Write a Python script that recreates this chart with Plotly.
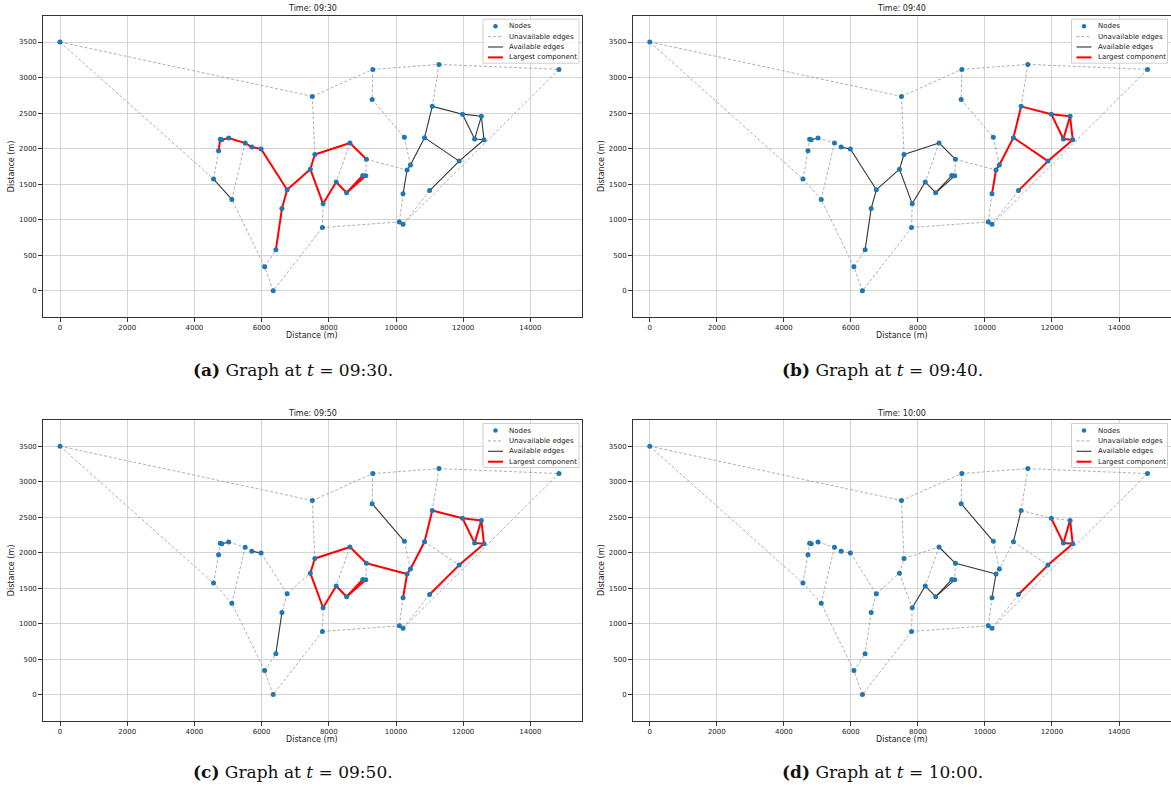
import plotly.graph_objects as go

# ---------------- data ----------------
NODE_X = [0, 7510, 9310, 11280, 14850, 9290, 10250, 11080, 11980, 12540,
          12340, 12620, 10850, 11880, 10430, 10330, 10210, 11000, 10100, 10210,
          7810, 9120, 8630, 7585, 7450, 7830, 8220, 8530, 9010, 9100,
          6760, 6605, 6425, 6090, 6345, 5115, 4570, 4720, 4770, 4815,
          5020, 5510, 5710, 5985]
NODE_Y = [3500, 2735, 3115, 3185, 3115, 2690, 2160, 2595, 2485, 2455,
          2135, 2125, 2155, 1825, 1770, 1700, 1365, 1410, 970, 935,
          890, 1850, 2080, 1918, 1712, 1224, 1530, 1380, 1622, 1618,
          1421, 1157, 577, 338, 0, 1286, 1572, 1970, 2133, 2125,
          2149, 2078, 2022, 1995]

EDGE_U = [0, 0, 1, 1, 2, 3, 2, 5, 3, 4,
          7, 7, 8, 8, 10, 9, 10, 11, 12, 13,
          12, 14, 15, 6, 21, 16, 18, 20, 19, 20,
          20, 34, 33, 33, 35, 35, 36, 37, 38, 39,
          40, 41, 42, 43, 30, 31, 30, 24, 23, 22,
          21, 24, 25, 26, 27, 27, 22, 28]
EDGE_V = [1, 36, 2, 23, 3, 4, 5, 6, 7, 19,
          12, 8, 9, 10, 9, 11, 11, 13, 13, 17,
          14, 15, 16, 14, 15, 18, 19, 18, 17, 34,
          25, 33, 32, 35, 36, 41, 37, 38, 39, 40,
          41, 42, 43, 30, 31, 32, 24, 23, 22, 21,
          29, 25, 26, 27, 28, 29, 26, 29]

# edge status per time step: 0 = unavailable, 1 = available, 2 = largest component
STATUS_0930 = [0, 0, 0, 0, 0, 0, 0, 0, 0, 0,
               1, 1, 1, 1, 1, 1, 1, 1, 1, 1,
               1, 1, 1, 0, 0, 0, 0, 0, 0, 0,
               0, 0, 0, 0, 1, 0, 0, 2, 2, 2,
               2, 2, 2, 2, 2, 2, 2, 2, 2, 2,
               0, 2, 2, 2, 2, 2, 0, 0]
STATUS_0940 = [0, 0, 0, 0, 0, 0, 0, 0, 0, 0,
               2, 2, 2, 2, 2, 2, 2, 2, 2, 2,
               2, 2, 2, 0, 0, 0, 0, 0, 0, 0,
               0, 0, 0, 0, 0, 0, 0, 0, 1, 1,
               0, 0, 1, 1, 1, 1, 1, 1, 1, 1,
               0, 1, 1, 1, 1, 1, 0, 0]
STATUS_0950 = [0, 0, 0, 0, 0, 0, 0, 1, 0, 0,
               2, 2, 2, 2, 2, 2, 2, 2, 0, 2,
               2, 2, 2, 0, 2, 0, 0, 0, 0, 0,
               0, 0, 0, 0, 0, 0, 0, 0, 1, 1,
               0, 0, 1, 0, 0, 1, 0, 2, 2, 2,
               0, 2, 2, 2, 2, 2, 0, 0]
STATUS_1000 = [0, 0, 0, 0, 0, 0, 0, 1, 0, 0,
               1, 0, 0, 2, 2, 2, 2, 2, 0, 2,
               0, 0, 1, 0, 1, 0, 0, 0, 0, 0,
               0, 0, 0, 0, 0, 0, 0, 0, 0, 0,
               0, 0, 0, 0, 0, 0, 0, 0, 0, 1,
               0, 0, 1, 1, 1, 1, 0, 0]

TIMES = ["09:30", "09:40", "09:50", "10:00"]
LETTERS = ["a", "b", "c", "d"]
STATUSES = [STATUS_0930, STATUS_0940, STATUS_0950, STATUS_1000]
LEGEND_LABELS = ["Nodes", "Unavailable edges", "Available edges", "Largest component"]
X_TICKS = [0, 2000, 4000, 6000, 8000, 10000, 12000, 14000]
Y_TICKS = [0, 500, 1000, 1500, 2000, 2500, 3000, 3500]
X_RANGE = [-515, 15536]
Y_RANGE = [-372, 3870]

# ---------------- styles / geometry ----------------
W, H = 1171, 787
COLS = [(42.7, 582.0), (632.5, 1170.5)]
ROWS = [(15.7, 317.3), (420.0, 721.0)]
FONT = "DejaVu Sans"
NODE_COLOR = "#1f77b4"
EDGE_STYLES = {
    0: dict(color="rgba(150,150,150,0.85)", width=0.9, dash="3px,2px"),
    1: dict(color="#333333", width=1.1, dash="solid"),
    2: dict(color="#ff0000", width=2.0, dash="solid"),
}


def px(xp):
    return xp / W


def py(yp):
    return 1 - yp / H


fig = go.Figure()
annotations = []
shapes = []
layout_upd = {}

for p in range(4):
    r, c = divmod(p, 2)
    x0, x1 = COLS[c]
    y0, y1 = ROWS[r]
    sfx = "" if p == 0 else str(p + 1)
    xa, ya = "x" + sfx, "y" + sfx
    status = STATUSES[p]
    for code in (0, 1, 2):
        xs, ys = [], []
        for u, v, s in zip(EDGE_U, EDGE_V, status):
            if s == code:
                xs += [NODE_X[u], NODE_X[v], None]
                ys += [NODE_Y[u], NODE_Y[v], None]
        if not xs:
            xs, ys = [None], [None]
        fig.add_trace(go.Scatter(x=xs, y=ys, mode="lines", name=LEGEND_LABELS[code + 1],
                                 line=EDGE_STYLES[code], xaxis=xa, yaxis=ya,
                                 showlegend=False, hoverinfo="skip"))
    fig.add_trace(go.Scatter(x=NODE_X, y=NODE_Y, mode="markers", name="Nodes",
                             marker=dict(color=NODE_COLOR, size=5), xaxis=xa, yaxis=ya,
                             showlegend=False))
    axis_common = dict(showline=True, mirror=True, linecolor="#333333", linewidth=1,
                       ticks="outside", ticklen=3.5, tickwidth=0.8, tickcolor="#333333",
                       showgrid=True, gridcolor="#d4d4d4", gridwidth=1, zeroline=False,
                       tickfont=dict(family=FONT, size=7, color="#222222"))
    layout_upd["xaxis" + sfx] = dict(axis_common, domain=[px(x0), px(x1)], range=X_RANGE,
                                     tickmode="array", tickvals=X_TICKS,
                                     ticktext=[str(t) for t in X_TICKS], anchor=ya)
    layout_upd["yaxis" + sfx] = dict(axis_common, domain=[py(y1), py(y0)], range=Y_RANGE,
                                     tickmode="array", tickvals=Y_TICKS,
                                     ticktext=[str(t) for t in Y_TICKS], anchor=xa)

    # ----- legend box (drawn manually, matplotlib-like) -----
    bx1 = x1 - 3
    bx0 = bx1 - 96
    by0 = y0 + 3.5
    by1 = by0 + 44
    shapes.append(dict(type="rect", xref="paper", yref="paper",
                       x0=px(bx0), x1=px(bx1), y0=py(by1), y1=py(by0),
                       fillcolor="rgba(255,255,255,0.85)", line=dict(color="#cfcfcf", width=1),
                       layer="above"))
    for k, lab in enumerate(LEGEND_LABELS):
        ry = by0 + 7 + k * 10.4
        hx0, hx1 = bx0 + 5, bx0 + 20
        if k == 0:
            cxm = (hx0 + hx1) / 2
            shapes.append(dict(type="circle", xref="paper", yref="paper",
                               x0=px(cxm - 2.3), x1=px(cxm + 2.3), y0=py(ry + 2.3), y1=py(ry - 2.3),
                               fillcolor=NODE_COLOR, line=dict(color=NODE_COLOR, width=0), layer="above"))
        else:
            st = EDGE_STYLES[k - 1]
            shapes.append(dict(type="line", xref="paper", yref="paper",
                               x0=px(hx0), x1=px(hx1), y0=py(ry), y1=py(ry),
                               line=dict(color=st["color"], width=st["width"], dash=st["dash"]),
                               layer="above"))
        annotations.append(dict(text=lab, x=px(bx0 + 24), y=py(ry), xref="paper", yref="paper",
                                showarrow=False, xanchor="left", yanchor="middle",
                                font=dict(family=FONT, size=7, color="#222222")))

    cx = (x0 + x1) / 2
    annotations.append(dict(text="Time: " + TIMES[p], x=px(cx), y=py(y0 - 7), xref="paper", yref="paper",
                            showarrow=False, font=dict(family=FONT, size=8, color="#222222"),
                            xanchor="center", yanchor="middle"))
    annotations.append(dict(text="Distance (m)", x=px(cx), y=py(y1 + 18), xref="paper", yref="paper",
                            showarrow=False, font=dict(family=FONT, size=8, color="#222222"),
                            xanchor="center", yanchor="middle"))
    annotations.append(dict(text="Distance (m)", x=px(x0 - 31), y=py((y0 + y1) / 2), xref="paper", yref="paper",
                            showarrow=False, textangle=-90, font=dict(family=FONT, size=8, color="#222222"),
                            xanchor="center", yanchor="middle"))
    cap_x = 293 if c == 0 else 882
    cap_y = 370 if r == 0 else 772
    annotations.append(dict(text="<b>(" + LETTERS[p] + ")</b> Graph at <i>t</i> = " + TIMES[p] + ".",
                            x=px(cap_x), y=py(cap_y), xref="paper", yref="paper", showarrow=False,
                            font=dict(family="DejaVu Serif", size=17, color="#111111"),
                            xanchor="center", yanchor="middle"))

fig.update_layout(**layout_upd)
fig.update_layout(width=W, height=H, margin=dict(l=0, r=0, t=0, b=0),
                  paper_bgcolor="white", plot_bgcolor="white", showlegend=False,
                  annotations=annotations, shapes=shapes)
fig.write_html("out.html")
